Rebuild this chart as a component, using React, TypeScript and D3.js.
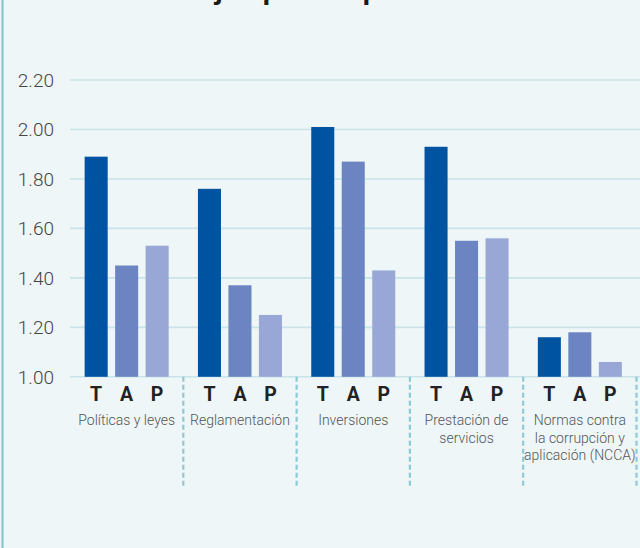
import React from "react";
import * as d3 from "d3";

const categories: string[][] = [
  ["Políticas y leyes"],
  ["Reglamentación"],
  ["Inversiones"],
  ["Prestación de", "servicios"],
  ["Normas contra", "la corrupción y", "aplicación (NCCA)"],
];
const seriesKeys = ["T", "A", "P"];
const valuesT = [1.89, 1.76, 2.01, 1.93, 1.16];
const valuesA = [1.45, 1.37, 1.87, 1.55, 1.18];
const valuesP = [1.53, 1.25, 1.43, 1.56, 1.06];
const yTicks = [1.0, 1.2, 1.4, 1.6, 1.8, 2.0, 2.2];
const title = "Número de ejemplos de prácticas en cada área";

const colors: Record<string, string> = { T: "#0053a1", A: "#6d84c2", P: "#98a7d5" };

export default function App() {
  const W = 640, H = 548;
  const series: Record<string, number[]> = { T: valuesT, A: valuesA, P: valuesP };
  const catIdx = categories.map((_, i) => String(i));
  const x0 = d3.scaleBand<string>().domain(catIdx).range([70, 636.5]).padding(0);
  const x1 = d3.scaleBand<string>().domain(seriesKeys).range([0, x0.bandwidth()]).paddingInner(0.245).paddingOuter(0.48);
  const y = d3.scaleLinear().domain([1.0, 2.2]).range([376.8, 80]);
  const grid = "#c9e4e9";
  const teal = "#8ccbd3";
  return (
    <svg width={W} height={H} style={{ position: "absolute", left: 0, top: 0 }} xmlns="http://www.w3.org/2000/svg">
      <rect x={0} y={0} width={W} height={H} fill="#eef6f8" />
      <line x1={2.5} x2={2.5} y1={0} y2={H} stroke="#7cc3cb" strokeWidth={2} />
      <text x={52} y={-1.5} fontFamily="Roboto" fontWeight={700} fontSize={28.5} fill="#1a1a1a">{title}</text>
      {yTicks.map((t) => (
        <g key={t}>
          <line x1={70} x2={W} y1={y(t)} y2={y(t)} stroke={grid} strokeWidth={1.6} />
          <text x={54} y={y(t)} dy="0.36em" textAnchor="end" fontFamily="Roboto" fontWeight={300} fontSize={19} fill="#444">{t.toFixed(2)}</text>
        </g>
      ))}
      {catIdx.map((c, i) => (
        <g key={c} transform={`translate(${x0(c)},0)`}>
          {seriesKeys.map((k) => (
            <g key={k}>
              <rect x={x1(k)} y={y(series[k][i])} width={x1.bandwidth()} height={y(1.0) - y(series[k][i])} fill={colors[k]} />
              <text x={(x1(k) as number) + x1.bandwidth() / 2} y={400.5} textAnchor="middle" fontFamily="Roboto" fontWeight={700} fontSize={19.5} fill="#222">{k}</text>
            </g>
          ))}
          {categories[i].map((line, j) => (
            <text key={j} x={x0.bandwidth() / 2} y={425 + j * 17.7} textAnchor="middle" fontFamily="Roboto" fontWeight={300} fontSize={14} fill="#555">{line}</text>
          ))}
          <line x1={x0.bandwidth()} x2={x0.bandwidth()} y1={y(1.0)} y2={487} stroke={teal} strokeWidth={2.2} strokeDasharray="5 3" />
        </g>
      ))}
    </svg>
  );
}
